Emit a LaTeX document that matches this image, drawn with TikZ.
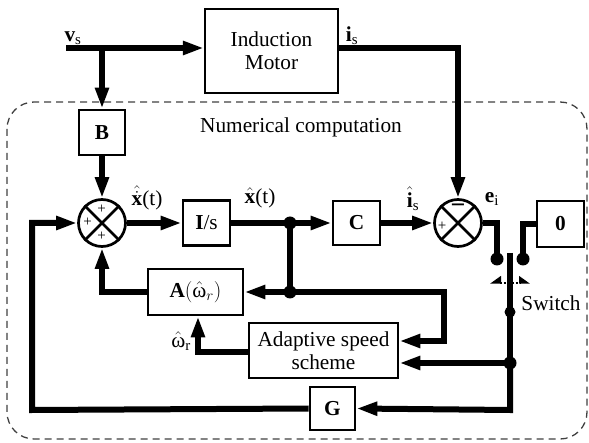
\documentclass[tikz,border=0pt]{standalone}
\usepackage{fix-cm}
\usepackage{amsmath}
\usepackage{fontspec}
\setmainfont{Liberation Serif}
\usetikzlibrary{arrows.meta}
\begin{document}
\begin{tikzpicture}[x=1pt,y=-1pt,
  sig/.style={line width=6pt, -{Triangle[length=21pt,width=13pt]}},
  wire/.style={line width=6pt},
  blk/.style={draw, line width=2.7pt, inner sep=0pt, font=\fontsize{21.3}{23}\selectfont},
  sumc/.style={draw, circle, line width=2.7pt, minimum size=47pt, inner sep=0pt},
  dot/.style={circle, fill, inner sep=0pt, minimum size=13pt},
  sdot/.style={circle, fill, inner sep=0pt, minimum size=11pt},
  lbl/.style={font=\fontsize{21.3}{23}\selectfont, inner sep=0pt},
  sml/.style={font=\fontsize{15}{16}\selectfont, inner sep=0pt},
  frame/.style={draw=black!75, line width=1.3pt, dash pattern=on 7pt off 5pt, rounded corners=27pt}
]
\useasboundingbox (0,0) rectangle (589,443);
\draw[frame] (7,102) rectangle (587,439);
\node[lbl] (numc) at (301,127) {Numerical computation};

% blocks
\node[blk, line width=2.2pt, minimum width=133pt, minimum height=84pt, align=center] (motor) at (271.5,51) {Induction\\Motor};
\node[blk, minimum width=46pt, minimum height=45pt] (B) at (102,132.5) {\textbf{B}};
\node[sumc] (s1) at (102,223) {};
\node[blk, minimum width=47pt, minimum height=45pt] (Is) at (206.5,223) {\textbf{I}/s};
\node[blk, minimum width=47pt, minimum height=44pt] (C) at (356.5,223) {\textbf{C}};
\node[sumc] (s2) at (458,223) {};
\node[blk, minimum width=47pt, minimum height=46pt] (Z) at (560.5,224) {\textbf{0}};
\node[blk, minimum width=95pt, minimum height=46pt] (A) at (195.5,292) {$\mathbf{A}(\hat{\text{ω}}_{r})$};
\node[blk, minimum width=149pt, minimum height=55pt, align=center] (Ad) at (323.5,350.5) {Adaptive speed\\scheme};
\node[blk, minimum width=45pt, minimum height=43pt] (G) at (332.5,408.5) {\textbf{G}};

% summing junction crosses and signs
\draw[line width=2.7pt] (s1.north west) -- (s1.south east) (s1.north east) -- (s1.south west);
\draw[line width=2.7pt] (s2.north west) -- (s2.south east) (s2.north east) -- (s2.south west);
\node[sml] (p1) at (101.5,209) {+};
\node[sml] (p2) at (87.5,222) {+};
\node[sml] (p3) at (101.5,236) {+};
\node[sml] (p4) at (442,226) {+};
\node[font=\fontsize{26}{26}\selectfont\bfseries, inner sep=0pt] (m1) at (458,209) {−};

% coordinates
\coordinate (vs) at (66,48);
\coordinate (bb) at (102,48);
\coordinate (is1) at (458,48);
\coordinate (c1) at (444,292);
\coordinate (c2) at (444,341);
\coordinate (c3) at (198,352);
\coordinate (c4) at (32,410);
\coordinate (c5) at (32,223);
\coordinate (e1) at (497,223);
\coordinate (z1) at (523,224);
\coordinate (swtop) at (510,253);
\coordinate (c6) at (510,410);

% junction dots
\node[dot] (j1) at (290,223) {};
\node[dot] (j2) at (290,292) {};
\node[dot] (k1) at (497,259) {};
\node[dot] (k2) at (523,259) {};
\node[sdot] (j3) at (510,312) {};
\node[dot] (j4) at (510,363) {};

% signals
\draw[sig] (vs) -- (vs -| motor.west);
\draw[sig] (bb) -- (B.north);
\draw[sig] (B.south) -- (s1.north);
\draw[sig] (s1.east) -- (Is.west);
\draw[wire] (Is.east) -- (j1.center);
\draw[sig] (j1.center) -- (C.west);
\draw[wire] (j1.center) -- (j2.center);
\draw[sig] (j2.center) -- (A.east);
\draw[sig] (j2.center) -- (c1) -- (c2) -- (c2 -| Ad.east);
\draw[sig] (A.west) -| (s1.south);
\draw[sig] (c3 -| Ad.west) -- (c3) -- (c3 |- A.south);
\draw[sig] (G.west) -- (c4) -- (c5) -- (s1.west);
\draw[sig] (C.east) -- (s2.west);
\draw[sig] (is1 -| motor.east) -- (is1) -- (s2.north);
\draw[wire] (s2.east) -- (e1) -- (k1.center);
\draw[wire] (Z.west) -- (z1) -- (k2.center);
\draw[wire] (swtop) -- (j4.center);
\draw[sig] (j4.center) -- (j4 -| Ad.east);
\draw[sig] (j4.center) -- (c6) -- (G.east);

% switch motion indicator
\coordinate (sl) at (490,283);
\coordinate (sr) at (530,283);
\draw[line width=1.4pt, dash pattern=on 2pt off 2pt, {Triangle[harpoon,swap,length=10pt,width=14pt]}-{Triangle[harpoon,length=10pt,width=14pt]}] (sl) -- (sr);

% labels
\node[lbl] (lvs) at (73,38) {$\mathbf{v}_{\mathrm{s}}$};
\node[lbl] (lis) at (352,36) {$\mathbf{i}_{\mathrm{s}}$};
\node[lbl] (lxd) at (147,198) {$\hat{\dot{\mathbf{x}}}$(t)};
\node[lbl] (lxh) at (260,198) {$\hat{\mathbf{x}}$(t)};
\node[lbl] (lish) at (413,199) {$\hat{\mathbf{i}}_{\mathrm{s}}$};
\node[lbl] (lei) at (492,199) {$\mathbf{e}_{\mathrm{i}}$};
\node[lbl] (lw) at (181,341) {$\hat{\text{ω}}_{\mathrm{r}}$};
\node[lbl] (lsw) at (551,303) {Switch};
\end{tikzpicture}
\end{document}
